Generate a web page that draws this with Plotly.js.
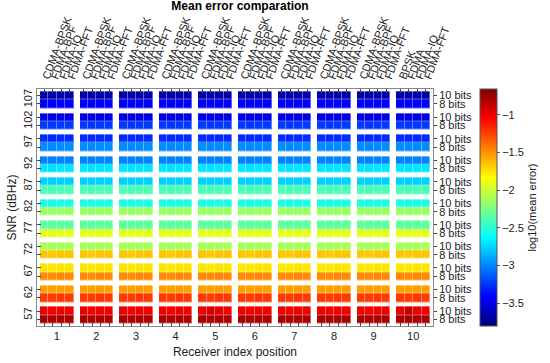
<!DOCTYPE html>
<html><head><meta charset="utf-8">
<script src="https://cdn.plot.ly/plotly-3.0.1.min.js"></script>
<style>html,body{margin:0;padding:0;background:#fff}#chart{width:550px;height:363px}</style>
</head><body><div id="chart"></div>
<script>
// ---- data ----
var receivers = [1,2,3,4,5,6,7,8,9,10];
var snrValues = [57,62,67,72,77,82,87,92,97,102,107];
var methods = ['CDMA-BPSK','FDMA-BPF','FDMA-IQ','FDMA-FFT'];
var methodsLast = ['BPSK','FDMA','FDMA-IQ','FDMA-FFT'];
var bitLabels = ['8 bits','10 bits'];
// log10(mean error), rows = SNR (57..107), columns = methods
var err8 = [
  [-0.78,-0.80,-0.79,-0.80],
  [-1.23,-1.24,-1.22,-1.23],
  [-1.48,-1.49,-1.47,-1.48],
  [-1.66,-1.67,-1.66,-1.66],
  [-1.92,-1.93,-1.92,-1.92],
  [-2.14,-2.15,-2.14,-2.14],
  [-2.39,-2.40,-2.39,-2.39],
  [-2.70,-2.71,-2.70,-2.70],
  [-2.98,-2.99,-2.98,-2.98],
  [-3.23,-3.24,-3.23,-3.23],
  [-3.42,-3.43,-3.42,-3.42]
];
var err10 = [
  [-1.00,-1.03,-1.00,-1.01],
  [-1.54,-1.55,-1.54,-1.54],
  [-1.76,-1.77,-1.76,-1.76],
  [-2.10,-2.11,-2.10,-2.10],
  [-2.32,-2.33,-2.32,-2.32],
  [-2.54,-2.55,-2.54,-2.54],
  [-2.76,-2.77,-2.76,-2.76],
  [-3.00,-3.01,-3.00,-3.00],
  [-3.27,-3.28,-3.27,-3.27],
  [-3.49,-3.50,-3.49,-3.49],
  [-3.67,-3.68,-3.67,-3.67]
];
// individual cells that differ visibly: [receiver, snr, bits, methodIndex, value]
var exceptions = [
  [10,57,10,1,-0.86],
  [5,57,10,1,-0.92]
];
var zMin = -3.8, zMax = -0.66;
var cbTicks = [-3.5,-3,-2.5,-2,-1.5,-1];

// ---- geometry ----
var blockHalfW = 0.425, cellW = 0.2125;
var rowH = 1.93;
var xEdges = [], xCenters = [], topText = [];
receivers.forEach(function(r, ri){
  for (var k=0;k<=4;k++) xEdges.push(r - blockHalfW + k*cellW);
  for (var m=0;m<4;m++){
    xCenters.push(r - blockHalfW + (m+0.5)*cellW);
    topText.push(ri === receivers.length-1 ? methodsLast[m] : methods[m]);
  }
});
var yEdges = [], rowCenters = [], rowText = [];
snrValues.forEach(function(s){
  yEdges.push(s - rowH, s, s + rowH);
  rowCenters.push(s - rowH/2, s + rowH/2);
  rowText.push(bitLabels[0], bitLabels[1]);
});
function lookup(r, si, bits, m){
  for (var i=0;i<exceptions.length;i++){
    var e = exceptions[i];
    if (e[0]===r && e[1]===snrValues[si] && e[2]===bits && e[3]===m) return e[4];
  }
  return bits===8 ? err8[si][m] : err10[si][m];
}
var z = [];
snrValues.forEach(function(s, si){
  [8,10].forEach(function(bits){
    var row = [];
    receivers.forEach(function(r, ri){
      for (var m=0;m<4;m++) row.push(lookup(r, si, bits, m));
      if (ri < receivers.length-1) row.push(null);
    });
    z.push(row);
  });
  if (si < snrValues.length-1){
    var gap = []; for (var c=0;c<xEdges.length-1;c++) gap.push(null);
    z.push(gap);
  }
});

var jet = [[0,'rgb(0,0,128)'],[0.125,'rgb(0,0,255)'],[0.375,'rgb(0,255,255)'],
           [0.625,'rgb(255,255,0)'],[0.875,'rgb(255,0,0)'],[1,'rgb(128,0,0)']];
var font = 'Liberation Sans, Arial, sans-serif';
var under = {type:'heatmap', x:xEdges, y:yEdges, z:z, zmin:zMin, zmax:zMax,
  colorscale:jet, showscale:false, opacity:0.62, hoverinfo:'skip'};
var main = {type:'heatmap', x:xEdges, y:yEdges, z:z, zmin:zMin, zmax:zMax,
  colorscale:jet, xgap:1, ygap:1,
  colorbar:{x:1.118, xanchor:'left', xpad:0, ypad:0, y:0.5, yanchor:'middle', len:1,
    thickness:17, outlinewidth:1, outlinecolor:'#555',
    tickvals:cbTicks, ticks:'outside', ticklen:3, tickcolor:'#555',
    tickfont:{size:11, color:'#222', family:font},
    title:{text:'log10(mean error)', side:'right', font:{size:11, color:'#222', family:font}}}};
var dummy = {type:'scatter', x:[null], y:[null], xaxis:'x2', yaxis:'y2', hoverinfo:'skip', showlegend:false};

var layout = {
  width:550, height:363,
  margin:{l:37, r:107, t:89, b:37},
  paper_bgcolor:'#fff', plot_bgcolor:'#fff',
  font:{family:font, color:'#222', size:11},
  showlegend:false,
  title:{text:'<b>Mean error comparation</b>', x:(37+203)/550, xanchor:'center', y:0.995, yanchor:'top',
    font:{size:12, color:'#000', family:font}},
  xaxis:{range:[0.5,10.5], tickmode:'array', tickvals:receivers, ticks:'', ticklen:0,
    showgrid:false, zeroline:false, showline:true, linecolor:'#888', linewidth:1,
    tickfont:{size:11}, 
    minor:{tickmode:'array', tickvals:xCenters, ticks:'inside', ticklen:4, tickcolor:'#444', tickwidth:1, showgrid:false},
    title:{text:'Receiver index position', font:{size:12}, standoff:6}},
  xaxis2:{overlaying:'x', side:'top', range:[0.5,10.5], tickmode:'array', tickvals:xCenters, ticktext:topText,
    tickangle:-70, ticks:'inside', ticklen:4, tickcolor:'#444', showgrid:false, zeroline:false,
    showline:true, linecolor:'#888', linewidth:1, tickfont:{size:11}},
  yaxis:{range:[54.5,109.5], tickmode:'array', tickvals:snrValues, ticks:'', tickangle:-90,
    showgrid:false, zeroline:false, showline:true, linecolor:'#888', linewidth:1, tickfont:{size:11},
    minor:{tickmode:'array', tickvals:rowCenters, ticks:'inside', ticklen:4, tickcolor:'#444', tickwidth:1, showgrid:false},
    title:{text:'SNR (dBHz)', font:{size:12}, standoff:2}},
  yaxis2:{overlaying:'y', side:'right', range:[54.5,109.5], tickmode:'array', tickvals:rowCenters, ticktext:rowText,
    ticks:'outside', ticklen:3, tickcolor:'#444', showgrid:false, zeroline:false,
    showline:true, linecolor:'#888', linewidth:1, tickfont:{size:11}}
};
Plotly.newPlot('chart', [under, main, dummy], layout, {displayModeBar:false, staticPlot:true});
</script></body></html>
